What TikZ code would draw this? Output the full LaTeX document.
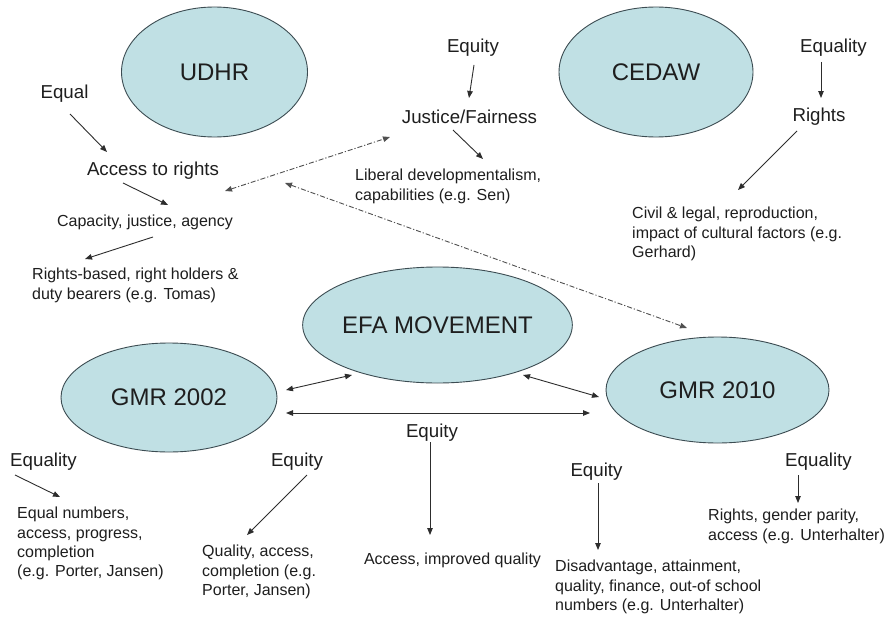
\documentclass[tikz,border=0pt]{standalone}
\usepackage{fontspec}
\setmainfont{Liberation Sans}
\usetikzlibrary{shapes.geometric,arrows.meta}
\definecolor{ellfill}{RGB}{192,224,228}
\definecolor{elldraw}{RGB}{60,76,82}
\definecolor{txt}{RGB}{30,30,30}
\definecolor{arrc}{RGB}{45,45,45}
\definecolor{dashc}{RGB}{80,80,80}
\tikzset{
  oval/.style={ellipse, draw=elldraw, line width=0.9pt, fill=ellfill, inner sep=0pt,
    text=txt, font=\fontsize{24}{28}\selectfont},
  lab/.style={inner sep=0pt, text=txt, font=\fontsize{18.7}{22}\selectfont},
  small/.style={inner sep=0pt, text=txt, font=\fontsize{16}{19.4}\selectfont, anchor=north west, align=left},
  smallone/.style={inner sep=0pt, text=txt, font=\fontsize{16}{19.4}\selectfont},
  arr/.style={draw=arrc, line width=0.9pt, -{Triangle[length=7pt,width=5.5pt]}},
  darr/.style={draw=arrc, line width=0.9pt, {Triangle[length=7pt,width=5.5pt]}-{Triangle[length=7pt,width=5.5pt]}},
  dd/.style={draw=dashc, line width=0.9pt, dash pattern=on 5pt off 2pt on 1.2pt off 2pt},
}
\begin{document}
\begin{tikzpicture}[x=1pt,y=-1pt]
\useasboundingbox[fill=white] (0,0) rectangle (889,618);
% ellipses
\node[oval, minimum width=186pt, minimum height=130pt] (udhr) at (214.5,72) {UDHR};
\node[oval, minimum width=194pt, minimum height=130pt] (cedaw) at (656,72) {CEDAW};
\node[oval, minimum width=231pt, minimum height=116pt] (efa) at (437.5,325) {EFA MOVEMENT};
\node[oval, minimum width=216pt, minimum height=109pt] (gmr02) at (169,397.5) {GMR 2002};
\node[oval, minimum width=223pt, minimum height=106pt] (gmr10) at (717.5,390) {GMR 2010};
% labels
\node[lab] (equal) at (64.5,94) {Equal};
\node[lab] (access) at (153,171) {Access to rights};
\node[smallone] (capac) at (145,222) {Capacity, justice, agency};
\node[small] (rightsb) at (32,268) {Rights-based, right holders \&\\duty bearers (e.g. Tomas)};
\node[lab] (equity1) at (473,48) {Equity};
\node[lab] (justice) at (469.5,117) {Justice/Fairness};
\node[small] (liberal) at (355,169) {Liberal developmentalism,\\capabilities (e.g. Sen)};
\node[lab] (equality1) at (833.5,48) {Equality};
\node[lab] (rights) at (819,117) {Rights};
\node[small] (civil) at (632,207) {Civil \& legal, reproduction,\\impact of cultural factors (e.g.\\Gerhard)};
\node[lab] (equity2) at (432,433) {Equity};
\node[smallone] (accimp) at (452.5,560) {Access, improved quality};
\node[lab] (equality2) at (43.5,462) {Equality};
\node[small] (equalnum) at (17,507) {Equal numbers,\\access, progress,\\completion\\(e.g. Porter, Jansen)};
\node[lab] (equity3) at (297,462) {Equity};
\node[small] (quality) at (202,545) {Quality, access,\\completion (e.g.\\Porter, Jansen)};
\node[lab] (equity4) at (596.5,472) {Equity};
\node[small] (disadv) at (555,560) {Disadvantage, attainment,\\quality, finance, out-of school\\numbers (e.g. Unterhalter)};
\node[lab] (equality3) at (818.5,462) {Equality};
\node[small] (rightsg) at (708,509) {Rights, gender parity,\\access (e.g. Unterhalter)};
% arrows top-left
\draw[arr] ([shift={(5.5,20)}]equal.center) -- ([shift={(-46,-19)}]access.center);
\draw[arr] ([shift={(-30,12)}]access.center) -- ([shift={(23,-17)}]capac.center);
\draw[arr] ([shift={(8,15)}]capac.center) -- ([shift={(53,-9)}]rightsb.north west);
% arrows top-middle
\draw[arr] ([shift={(1,17)}]equity1.center) -- ([shift={(-0.5,-19)}]justice.center);
\draw[arr] ([shift={(-16.5,13)}]justice.center) -- ([shift={(128,-10)}]liberal.north west);
% arrows top-right
\draw[arr] ([shift={(-12.5,14)}]equality1.center) -- ([shift={(2,-19)}]rights.center);
\draw[arr] ([shift={(-22,14)}]rights.center) -- ([shift={(106,-17)}]civil.north west);
% dash-dot
\draw[dd, {Triangle[length=7pt,width=5.5pt]}-{Triangle[length=7pt,width=5.5pt]}] ([shift={(72,20)}]access.center) -- ([shift={(-79.5,20)}]justice.center);
\draw[dd, {Triangle[length=7pt,width=5.5pt]}-{Triangle[length=7pt,width=5.5pt]}] ([shift={(132,12)}]access.center) -- ([shift={(-30.5,-62)}]gmr10.center);
% middle
\draw[darr] ([shift={(117,-7.5)}]gmr02.center) -- ([shift={(-85.5,50)}]efa.center);
\draw[darr] ([shift={(117,15.5)}]gmr02.center) -- ([shift={(-127.5,23)}]gmr10.center);
\draw[darr] ([shift={(85.5,50)}]efa.center) -- ([shift={(-118.5,7)}]gmr10.center);
% bottom
\draw[arr] ([shift={(-2,9)}]equity2.center) -- ([shift={(-22.5,-25)}]accimp.center);
\draw[arr] ([shift={(-28.5,13)}]equality2.center) -- ([shift={(43,-10)}]equalnum.north west);
\draw[arr] ([shift={(10,13)}]equity3.center) -- ([shift={(45,-10)}]quality.north west);
\draw[arr] ([shift={(1.5,11)}]equity4.center) -- ([shift={(43,-10)}]disadv.north west);
\draw[arr] ([shift={(-20.5,13)}]equality3.center) -- ([shift={(90,-6)}]rightsg.north west);
\end{tikzpicture}
\end{document}
